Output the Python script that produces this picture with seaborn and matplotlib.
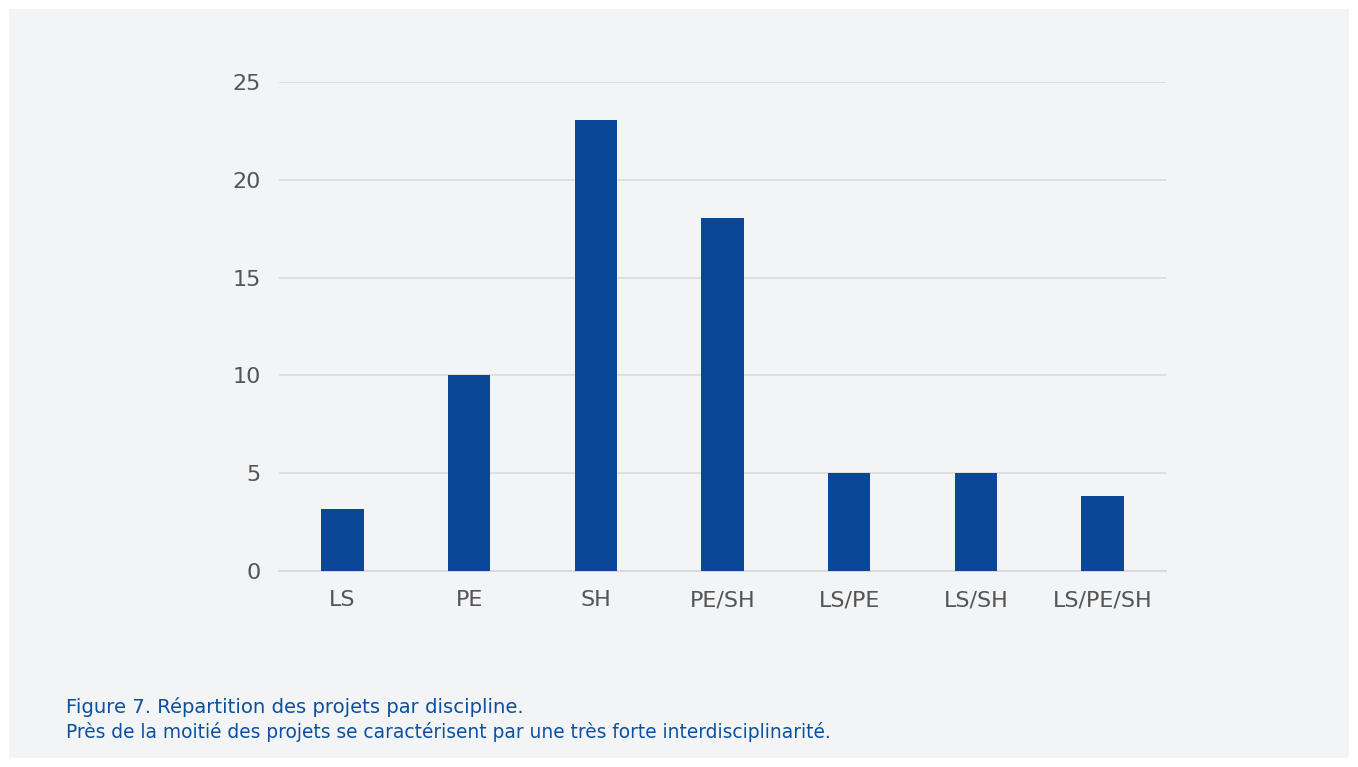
import seaborn as sns
import matplotlib.pyplot as plt
from matplotlib.patches import Rectangle

disciplines = ['LS', 'PE', 'SH', 'PE/SH', 'LS/PE', 'LS/SH', 'LS/PE/SH']
projets = [3.15, 10, 23.05, 18.05, 5, 5, 3.85]
y_ticks = [0, 5, 10, 15, 20, 25]

sns.set_style('white')
plt.rcParams['font.family'] = ['DejaVu Sans']

fig = plt.figure(figsize=(13.58, 7.67), dpi=100)
fig.patch.set_facecolor('white')
fig.patches.append(Rectangle((9 / 1358, 9 / 767), 1340 / 1358, 749 / 767,
                             transform=fig.transFigure, facecolor='#f3f4f6',
                             edgecolor='none', zorder=-5))

ax = fig.add_axes([279 / 1358, 1 - 571 / 767, 887 / 1358, 489 / 767])
ax.set_facecolor('none')
sns.barplot(x=disciplines, y=projets, color='#0a4897', saturation=1,
            width=0.335, linewidth=0, ax=ax, zorder=3)

ax.set_ylim(0, 25)
ax.set_xlim(-0.5, 6.5)
ax.set_yticks(y_ticks)
ax.yaxis.grid(True, color='#d9d9dc', linewidth=1.1, zorder=0)
ax.set_axisbelow(True)
for side in ['top', 'right', 'left']:
    ax.spines[side].set_visible(False)
ax.spines['bottom'].set_color('#d9d9dc')
ax.spines['bottom'].set_linewidth(1.5)
ax.tick_params(axis='both', length=0, labelsize=16, labelcolor='#555555')
ax.tick_params(axis='y', pad=13)
ax.tick_params(axis='x', pad=14)
ax.set_xlabel('')
ax.set_ylabel('')

fig.text(66 / 1358, 1 - 713 / 767, 'Figure 7. Répartition des projets par discipline.',
         fontsize=14.1, color='#0a4fa0')
fig.text(66 / 1358, 1 - 738 / 767,
         'Près de la moitié des projets se caractérisent par une très forte interdisciplinarité.',
         fontsize=13.4, color='#0a4fa0')

fig.savefig('out.png', dpi=100)
